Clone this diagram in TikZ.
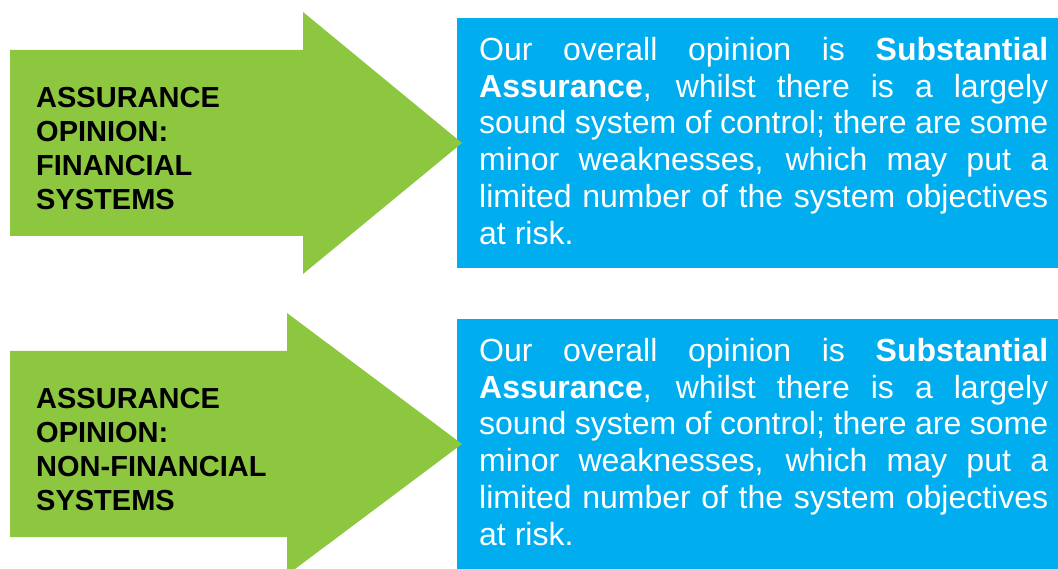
\documentclass[tikz,border=0pt]{standalone}
\usepackage{fontspec}
\setmainfont{Liberation Sans}
\definecolor{opiniongreen}{RGB}{141,198,63}
\definecolor{opinionblue}{RGB}{0,174,239}

\begin{document}
\begin{tikzpicture}[x=1pt,y=-1pt,
	arrow shape/.style={fill=opiniongreen},
	label node/.style={anchor=west,align=left,inner sep=0pt,font=\fontsize{29}{34}\selectfont\bfseries},
	opinion box/.style={fill=opinionblue},
	opinion node/.style={anchor=north west,inner sep=0pt,text width=569pt,align=justify,text=white,font=\fontsize{32}{36.8}\selectfont}
	]
	
	\useasboundingbox (0,0) rectangle (1058,569);
	
	\def \opinion {Our overall opinion is \textbf{Substantial}\linebreak \textbf{Assurance}, whilst there is a largely\linebreak sound system of control; there are some\linebreak minor weaknesses, which may put a\linebreak limited number of the system objectives\linebreak at risk.};
	
	\foreach \y/\hb/\nm/\lbl in {143/303/fin/FINANCIAL, 444/287/nonfin/NON-FINANCIAL} {
		\fill[opinion box] (457,\y-125) rectangle (1058,\y+125);
		\fill[arrow shape] (10,\y-93) -- (\hb,\y-93) -- (\hb,\y-131) -- (462,\y) -- (\hb,\y+131) -- (\hb,\y+93) -- (10,\y+93) -- cycle;
		\node[label node] (\nm label) at (36,\y+6) {ASSURANCE\\OPINION:\\\lbl\\SYSTEMS};
		\node[opinion node] (\nm text) at (479,\y-106) {\opinion};
	}
	
\end{tikzpicture}
\end{document}
